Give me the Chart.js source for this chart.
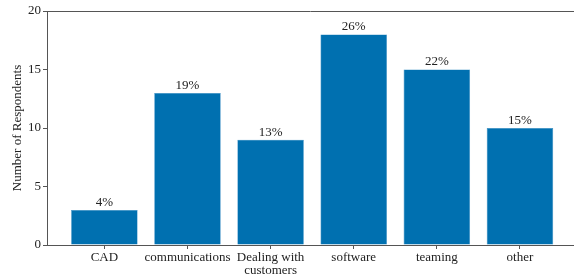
<!DOCTYPE html>
<html>
    <head>
        <meta charset="utf-8" />
        <script src="https://cdn.jsdelivr.net/npm/chart.js@4.4.0/dist/chart.umd.min.js"></script>
        <style>
            * { margin: 0; padding: 0; box-sizing: border-box; }
            body { background: #ffffff; }
            #wrap { width: 574px; height: 274px; position: relative; }
        </style>
    </head>
    <body>
        <div id="wrap"><canvas id="myChart"></canvas></div>
        <script>
            const categories = ['CAD', 'communications', ['Dealing with', 'customers'], 'software', 'teaming', 'other'];
            const respondents = [3, 13, 9, 18, 15, 10];
            const percentLabels = ['4%', '19%', '13%', '26%', '22%', '15%'];
            const yTicks = [0, 5, 10, 15, 20];

            const FONT = '"Liberation Serif", "Times New Roman", serif';
            const AXIS = '#555555';

            // draws the % text over each bar and the top frame line
            const barText = {
                id: 'barText',
                afterDatasetsDraw(chart) {
                    const ctx = chart.ctx;
                    const area = chart.chartArea;
                    ctx.save();
                    ctx.strokeStyle = AXIS;
                    ctx.lineWidth = 1;
                    ctx.beginPath();
                    ctx.moveTo(area.left, area.top + 0.5);
                    ctx.lineTo(area.right, area.top + 0.5);
                    ctx.stroke();

                    ctx.fillStyle = '#222222';
                    ctx.font = '13px ' + FONT;
                    ctx.textAlign = 'center';
                    ctx.textBaseline = 'bottom';
                    chart.getDatasetMeta(0).data.forEach((bar, i) => {
                        ctx.fillText(percentLabels[i], bar.x, bar.y - 1);
                    });
                    ctx.restore();
                }
            };

            const data = {
                datasets: [{
                    data: respondents.map((v, i) => ({ x: i, y: v })),
                    backgroundColor: '#0070b0',
                    borderColor: '#2a86c0',
                    borderWidth: 0.6,
                    barPercentage: 1,
                    categoryPercentage: 0.8
                }]
            };

            new Chart(document.getElementById('myChart'), {
                type: 'bar',
                data,
                plugins: [barText],
                options: {
                    responsive: true,
                    maintainAspectRatio: false,
                    animation: false,
                    layout: { padding: { top: 11, right: 0, left: 0, bottom: 0 } },
                    plugins: { legend: { display: false }, tooltip: { enabled: false } },
                    scales: {
                        x: {
                            type: 'linear',
                            min: -0.69,
                            max: 5.65,
                            offset: false,
                            afterBuildTicks: s => { s.ticks = categories.map((c, i) => ({ value: i })); },
                            afterFit: s => { s.height = 29; },
                            grid: { offset: false, drawOnChartArea: false, drawTicks: true, tickLength: 4, color: AXIS },
                            border: { display: true, color: AXIS, width: 1 },
                            ticks: {
                                autoSkip: false,
                                maxRotation: 0,
                                padding: 2,
                                color: '#222222',
                                font: { family: FONT, size: 13, lineHeight: 1.0 },
                                callback: v => categories[v]
                            }
                        },
                        y: {
                            min: 0,
                            max: 20,
                            afterBuildTicks: s => { s.ticks = yTicks.map(v => ({ value: v })); },
                            afterFit: s => { s.width = 47; },
                            grid: { drawOnChartArea: false, drawTicks: true, tickLength: 4, color: AXIS },
                            border: { display: true, color: AXIS, width: 1 },
                            title: {
                                display: true,
                                text: 'Number of Respondents',
                                color: '#222222',
                                font: { family: FONT, size: 13 },
                                padding: { top: 10, bottom: 0 }
                            },
                            ticks: {
                                padding: 2,
                                color: '#222222',
                                font: { family: FONT, size: 13 }
                            }
                        }
                    }
                }
            });
        </script>
    </body>
</html>
